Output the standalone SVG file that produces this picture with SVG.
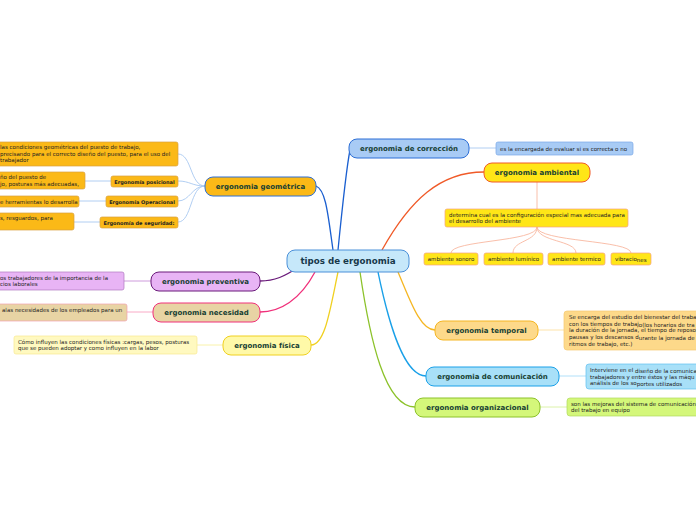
<svg xmlns="http://www.w3.org/2000/svg" width="696" height="520" viewBox="0 0 696 520">
<style>
text{font-family:"DejaVu Sans","Verdana",sans-serif;}
.m{font-size:7px;font-weight:bold;fill:#173f33;text-anchor:middle;}
.s{font-size:5.5px;fill:#222;}
.sb{font-size:5px;fill:#222;font-weight:bold;text-anchor:middle;}
.c{fill:none;stroke-width:1.3;}
.cl{fill:none;stroke-width:0.9;}
</style>
<rect width="696" height="520" fill="#ffffff"/>
<g id="connectors">
  <path class="c" stroke="#1a5fd0" d="M338,250 C342,210 346,170 350,150"/>
  <path class="c" stroke="#1a5fd0" d="M333,250 C328,215 326,190 316,186"/>
  <path class="c" stroke="#f05a28" d="M382,250 C410,200 440,172 484,172"/>
  <path class="c" stroke="#6a1a7a" d="M297,268 C285,276 275,281 260,281"/>
  <path class="c" stroke="#f0307a" d="M315,272 C300,300 280,312 260,312"/>
  <path class="c" stroke="#f0d020" d="M338,272 C330,310 325,345 311,345"/>
  <path class="c" stroke="#f5b622" d="M398,272 C410,300 420,330 435,330"/>
  <path class="c" stroke="#1aa0e8" d="M378,272 C390,330 405,376 426,376"/>
  <path class="c" stroke="#8cc22a" d="M360,272 C370,340 385,407 415,407"/>
  <path class="cl" stroke="#a8c8f0" d="M469,148 L496,148"/>
  <path class="cl" stroke="#f8b8a0" d="M537,182 L537,209"/>
  <path class="cl" stroke="#f8b8a0" d="M537,227 C537,242 451,240 451,253"/>
  <path class="cl" stroke="#f8b8a0" d="M537,227 C537,242 513,240 513,253"/>
  <path class="cl" stroke="#f8b8a0" d="M537,227 C537,242 576,240 576,253"/>
  <path class="cl" stroke="#f8b8a0" d="M537,227 C537,242 631,240 631,253"/>
  <path class="cl" stroke="#a8c8f0" d="M205,186 C190,186 192,154 178,154"/>
  <path class="cl" stroke="#a8c8f0" d="M205,186 C192,186 190,181 178,181"/>
  <path class="cl" stroke="#a8c8f0" d="M205,186 C192,186 190,201 178,201"/>
  <path class="cl" stroke="#a8c8f0" d="M205,186 C190,186 192,222 178,222"/>
  <path class="cl" stroke="#a8c8f0" d="M111,181 L85,181"/>
  <path class="cl" stroke="#a8c8f0" d="M106,201 L79,201"/>
  <path class="cl" stroke="#a8c8f0" d="M100,222 L74,222"/>
  <path class="cl" stroke="#c890d8" d="M151,281 L124,281"/>
  <path class="cl" stroke="#f8a0c0" d="M153,312 L127,312"/>
  <path class="cl" stroke="#f8f0a0" d="M223,345 L197,345"/>
  <path class="cl" stroke="#fde0a0" d="M538,330 L564,330"/>
  <path class="cl" stroke="#a8dcf8" d="M559,376 L586,376"/>
  <path class="cl" stroke="#d8f0a0" d="M540,407 L567,407"/>
</g>
<g id="center">
  <rect x="287" y="250" width="122" height="22" rx="8" fill="#c6e8fa" stroke="#4a90d9" stroke-width="1"/>
  <text x="348" y="264" class="m" style="font-size:8.7px;fill:#17384a">tipos de ergonomia</text>
</g>
<g id="correccion">
  <rect x="349" y="139" width="120" height="19" rx="8" fill="#a8cbf5" stroke="#2d6fd6" stroke-width="1"/>
  <text x="409" y="151" class="m">ergonomia de corrección</text>
</g>
<g id="correccion-d">
  <rect x="496" y="142" width="137" height="13" rx="2" fill="#a8cbf5" stroke="#7aa8e8" stroke-width="0.7"/>
  <text x="500" y="150.5" class="s">es la encargada de  evaluar si es correcta o no</text>
</g>
<g id="ambiental">
  <rect x="484" y="163" width="106" height="19" rx="8" fill="#ffe617" stroke="#f05a28" stroke-width="1"/>
  <text x="537" y="175" class="m">ergonomia ambiental</text>
</g>
<g id="ambiental-d">
  <rect x="445" y="209" width="183" height="18" rx="2" fill="#ffe617" stroke="#f5a080" stroke-width="0.7"/>
  <text x="449" y="216.5" class="s">determina cual es la configuración especial mas adecuada para</text>
  <text x="449" y="223" class="s">el desarrollo del ambiente</text>
</g>
<g id="sonoro">
  <rect x="424" y="253" width="54" height="12" rx="2" fill="#ffe617" stroke="#f5a080" stroke-width="0.7"/>
  <text x="451" y="261" class="s" text-anchor="middle">ambiente sonoro</text>
</g>
<g id="luminico">
  <rect x="484" y="253" width="59" height="12" rx="2" fill="#ffe617" stroke="#f5a080" stroke-width="0.7"/>
  <text x="513.5" y="261" class="s" text-anchor="middle">ambiente lumínico</text>
</g>
<g id="termico">
  <rect x="548" y="253" width="57" height="12" rx="2" fill="#ffe617" stroke="#f5a080" stroke-width="0.7"/>
  <text x="576.5" y="261" class="s" text-anchor="middle">ambiente termico</text>
</g>
<g id="vibraciones">
  <rect x="611" y="253" width="40" height="12" rx="2" fill="#ffe617" stroke="#f5a080" stroke-width="0.7"/>
  <text x="615" y="261" class="s">vibracio<tspan dy="1.2">nes</tspan></text>
</g>
<g id="geometrica">
  <rect x="205" y="177" width="111" height="19" rx="8" fill="#fbb917" stroke="#2d6fd6" stroke-width="1"/>
  <text x="260.5" y="189" class="m">ergonomia geométrica</text>
</g>
<g id="geometrica-d">
  <rect x="-10" y="142" width="188" height="24" rx="2" fill="#fbb917" stroke="#d8a040" stroke-width="0.7"/>
  <text x="0" y="149" class="s">las condiciones geométricas del puesto de trabajo,</text>
  <text x="0" y="155.5" class="s">precisando para el correcto diseño del puesto, para el uso del</text>
  <text x="0" y="162" class="s">trabajador</text>
</g>
<g id="posicional">
  <rect x="111" y="176" width="67" height="11" rx="2" fill="#fbb917" stroke="#d8a040" stroke-width="0.7"/>
  <text x="144.5" y="183.5" class="sb">Ergonomía posicional</text>
</g>
<g id="posicional-d">
  <rect x="-10" y="172" width="95" height="17" rx="2" fill="#fbb917" stroke="#d8a040" stroke-width="0.7"/>
  <text x="0" y="179" class="s">ño del puesto de</text>
  <text x="0" y="185.5" class="s">jo, posturas más adecuadas,</text>
</g>
<g id="operacional">
  <rect x="106" y="196" width="72" height="11" rx="2" fill="#fbb917" stroke="#d8a040" stroke-width="0.7"/>
  <text x="142" y="203.5" class="sb">Ergonomía Operacional</text>
</g>
<g id="operacional-d">
  <rect x="-10" y="196" width="89" height="11" rx="2" fill="#fbb917" stroke="#d8a040" stroke-width="0.7"/>
  <text x="0" y="203.5" class="s">e herramientas lo desarrolla</text>
</g>
<g id="seguridad">
  <rect x="100" y="217" width="78" height="11" rx="2" fill="#fbb917" stroke="#d8a040" stroke-width="0.7"/>
  <text x="139" y="224.5" class="sb">Ergonomía de seguridad:</text>
</g>
<g id="seguridad-d">
  <rect x="-10" y="213" width="84" height="17" rx="2" fill="#fbb917" stroke="#d8a040" stroke-width="0.7"/>
  <text x="0" y="220" class="s">s, resguardos, para</text>
</g>
<g id="preventiva">
  <rect x="151" y="272" width="109" height="19" rx="8" fill="#e8b4f5" stroke="#6a1a7a" stroke-width="1"/>
  <text x="205.5" y="284" class="m">ergonomia preventiva</text>
</g>
<g id="preventiva-d">
  <rect x="-10" y="272" width="134" height="18" rx="2" fill="#e8b4f5" stroke="#b07ac0" stroke-width="0.7"/>
  <text x="0" y="279.5" class="s">os trabajadores de la importancia de la</text>
  <text x="0" y="286" class="s">cios laborales</text>
</g>
<g id="necesidad">
  <rect x="153" y="303" width="107" height="19" rx="8" fill="#e8d4a4" stroke="#f0307a" stroke-width="1"/>
  <text x="206.5" y="315" class="m">ergonomia necesidad</text>
</g>
<g id="necesidad-d">
  <rect x="-10" y="304" width="137" height="17" rx="2" fill="#e8d4a4" stroke="#f0a0b0" stroke-width="0.7"/>
  <text x="2" y="312" class="s">alas necesidades de los empleados para un</text>
</g>
<g id="fisica">
  <rect x="223" y="336" width="88" height="19" rx="8" fill="#fff9a8" stroke="#f0d020" stroke-width="1"/>
  <text x="267" y="348" class="m">ergonomia física</text>
</g>
<g id="fisica-d">
  <rect x="14" y="336" width="183" height="18" rx="2" fill="#fff9c0" stroke="#f8e890" stroke-width="0.7"/>
  <text x="18" y="343.5" class="s">Cómo influyen las condiciones físicas :cargas, pesos, posturas</text>
  <text x="18" y="350" class="s">que se pueden adoptar y como influyen en la labor</text>
</g>
<g id="temporal">
  <rect x="435" y="321" width="103" height="19" rx="8" fill="#fdd98a" stroke="#f5b622" stroke-width="1"/>
  <text x="486.5" y="333" class="m">ergonomia temporal</text>
</g>
<g id="temporal-d">
  <rect x="564" y="311" width="140" height="39" rx="3" fill="#fdd98a" stroke="#f5c870" stroke-width="0.7"/>
  <text x="569" y="319" class="s">Se encarga del estudio del bienestar del traba</text>
  <text x="569" y="325.5" class="s">con los tiempos de trabaj<tspan dy="1">o(los horarios de tra</tspan></text>
  <text x="569" y="332" class="s">la duración de la jornada, el tiempo de reposo</text>
  <text x="569" y="338.5" class="s">pausas y los descansos d<tspan dy="1">urante la jornada de</tspan></text>
  <text x="569" y="345.5" class="s">ritmos de trabajo, etc.)</text>
</g>
<g id="comunicacion">
  <rect x="426" y="367" width="133" height="19" rx="8" fill="#a8e0f8" stroke="#1aa0e8" stroke-width="1"/>
  <text x="492.5" y="379" class="m">ergonomia de comunicación</text>
</g>
<g id="comunicacion-d">
  <rect x="586" y="364" width="118" height="25" rx="3" fill="#a8e0f8" stroke="#60c0f0" stroke-width="0.7"/>
  <text x="590" y="372" class="s">Interviene en el <tspan dy="1">diseño de la comunica</tspan></text>
  <text x="590" y="379" class="s">trabajadores y entre éstos y las máqu</text>
  <text x="590" y="385" class="s">análisis de los so<tspan dy="1">portes utilizados</tspan></text>
</g>
<g id="organizacional">
  <rect x="415" y="398" width="125" height="19" rx="8" fill="#d4f77a" stroke="#8cc22a" stroke-width="1"/>
  <text x="477.5" y="410" class="m">ergonomia organizacional</text>
</g>
<g id="organizacional-d">
  <rect x="567" y="398" width="137" height="18" rx="3" fill="#d4f77a" stroke="#b0d860" stroke-width="0.7"/>
  <text x="571" y="405.5" class="s">son las mejoras del sistema de comunicación</text>
  <text x="571" y="412" class="s">del trabajo en equipo</text>
</g>
</svg>
